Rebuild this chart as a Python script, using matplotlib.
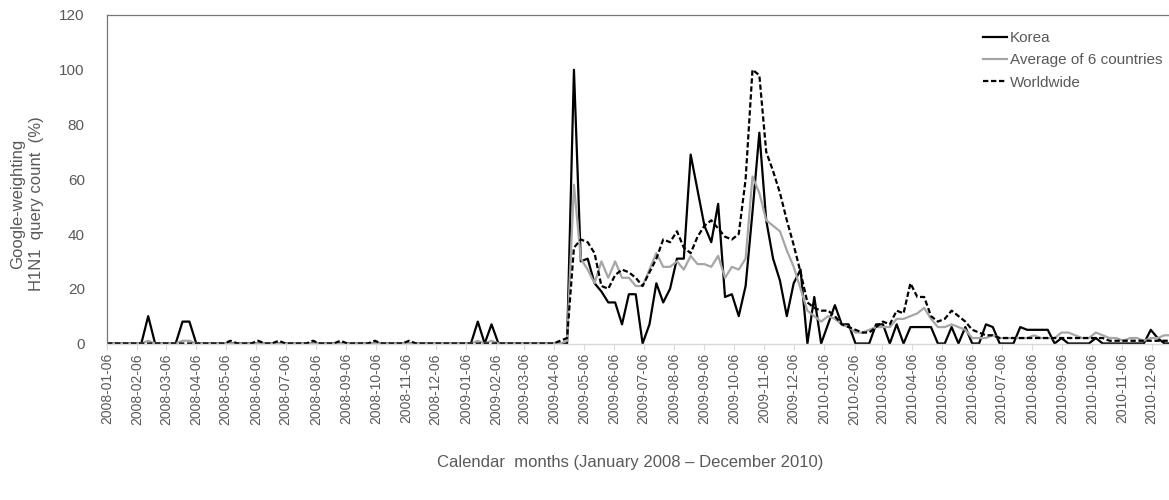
import matplotlib
matplotlib.use("Agg")
import matplotlib.pyplot as plt
import matplotlib.dates as mdates
import pandas as pd

plt.rcParams['font.family'] = ['Liberation Sans', 'DejaVu Sans']

# weekly H1N1 query counts (Google-weighted, %), first week 2008-01-06
start = '2008-01-06'

korea_2008 = [0, 0, 0, 0, 0, 0, 10, 0, 0, 0, 0, 8, 8, 0, 0, 0, 0, 0, 0, 0, 0, 0, 0, 0, 0, 0,
              0, 0, 0, 0, 0, 0, 0, 0, 0, 0, 0, 0, 0, 0, 0, 0, 0, 0, 0, 0, 0, 0, 0, 0, 0, 0]
korea_2009 = [0, 0, 8, 0, 7, 0, 0, 0, 0, 0, 0, 0, 0, 0, 0, 0, 100, 30, 31, 22, 19, 15, 15, 7, 18, 18,
              0, 7, 22, 15, 20, 31, 31, 69, 56, 43, 37, 51, 17, 18, 10, 21, 48, 77, 45, 31, 23, 10, 22, 27, 0, 17]
korea_2010 = [0, 7, 14, 7, 7, 0, 0, 0, 7, 7, 0, 7, 0, 6, 6, 6, 6, 0, 0, 6, 0, 6, 0, 0, 7, 6,
              0, 0, 0, 6, 5, 5, 5, 5, 0, 2, 0, 0, 0, 0, 2, 0, 0, 0, 0, 0, 0, 0, 5, 2, 0, 0]

avg6_2008 = [0, 0, 0, 0, 0, 0, 1, 0, 0, 0, 0, 1, 1, 0, 0, 0, 0, 0, 0, 0, 0, 0, 0, 0, 0, 0,
             0, 0, 0, 0, 0, 0, 0, 0, 0, 0, 0, 0, 0, 0, 0, 0, 0, 0, 0, 0, 0, 0, 0, 0, 0, 0]
avg6_2009 = [0, 0, 1, 0, 1, 0, 0, 0, 0, 0, 0, 0, 0, 0, 0, 1, 58, 31, 27, 22, 30, 24, 30, 24, 24, 21,
             21, 27, 33, 28, 28, 30, 27, 32, 29, 29, 28, 32, 24, 28, 27, 31, 61, 55, 45, 43, 41, 34, 28, 20, 12, 10]
avg6_2010 = [8, 10, 9, 7, 6, 4, 4, 5, 6, 6, 6, 9, 9, 10, 11, 13, 9, 6, 6, 7, 6, 5, 2, 2, 2, 3,
             2, 2, 2, 2, 2, 3, 2, 2, 2, 4, 4, 3, 2, 2, 4, 3, 2, 2, 1, 2, 2, 1, 2, 2, 3, 3]

world_2008 = [0, 0, 0, 0, 0, 0, 0, 0, 0, 0, 0, 0, 0, 0, 0, 0, 0, 0, 1, 0, 0, 0, 1, 0, 0, 1,
              0, 0, 0, 0, 1, 0, 0, 0, 1, 0, 0, 0, 0, 1, 0, 0, 0, 0, 1, 0, 0, 0, 0, 0, 0, 0]
world_2009 = [0, 0, 0, 0, 0, 0, 0, 0, 0, 0, 0, 0, 0, 0, 1, 2, 35, 38, 37, 33, 21, 20, 25, 27, 26, 24,
              21, 26, 31, 38, 37, 41, 35, 33, 39, 43, 45, 42, 39, 38, 40, 60, 100, 98, 70, 63, 55, 45, 36, 26, 15, 13]
world_2010 = [12, 12, 10, 7, 6, 5, 4, 4, 6, 8, 7, 12, 11, 22, 17, 17, 10, 8, 9, 12, 10, 8, 5, 4, 3, 3,
              2, 2, 2, 2, 2, 2, 2, 2, 2, 2, 2, 2, 2, 2, 2, 2, 1, 1, 1, 1, 1, 1, 1, 1, 1, 1]

korea = korea_2008 + korea_2009 + korea_2010
avg6 = avg6_2008 + avg6_2009 + avg6_2010
world = world_2008 + world_2009 + world_2010
weeks = pd.date_range(start, periods=len(korea), freq='7D')

txt = '#595959'

fig = plt.figure(figsize=(11.69, 5.0), dpi=100)
ax = fig.add_axes([107 / 1169, 156.5 / 500, 1062 / 1169, 328.5 / 500])

ax.plot(weeks, korea, color='black', lw=1.6, label='Korea')
ax.plot(weeks, avg6, color='#a6a6a6', lw=1.6, label='Average of 6 countries')
ax.plot(weeks, world, color='black', lw=1.6, dashes=(2.4, 1.2), label='Worldwide')

ax.set_ylim(0, 120)
ax.set_yticks(range(0, 121, 20))
ax.set_xlim(pd.Timestamp(start), pd.Timestamp(start) + pd.Timedelta(days=1082.6))

ax.xaxis.set_major_locator(mdates.MonthLocator(bymonthday=6))
ax.xaxis.set_major_formatter(mdates.DateFormatter('%Y-%m-%d'))
ax.tick_params(axis='x', rotation=90, labelsize=10, labelcolor=txt,
               color='#d9d9d9', length=4, pad=3)
ax.tick_params(axis='y', labelsize=11, labelcolor=txt, length=0, pad=16)

for side in ['left', 'top']:
    ax.spines[side].set_color('#767676')
    ax.spines[side].set_linewidth(0.9)
ax.spines['bottom'].set_color('#d9d9d9')
ax.spines['bottom'].set_linewidth(1.0)
ax.spines['right'].set_visible(False)

fig.text(27 / 1169, 1 - 204 / 500, 'Google-weighting\nH1N1  query count  (%)',
         rotation=90, ha='center', va='center', fontsize=12, color=txt,
         multialignment='center', linespacing=1.3)
fig.text(630 / 1169, 1 - 463 / 500, 'Calendar  months (January 2008 \u2013 December 2010)',
         ha='center', va='center', fontsize=12, color=txt)

ax.legend(loc='upper left', bbox_to_anchor=(983 / 1169, 1 - 31 / 500),
          bbox_transform=fig.transFigure, frameon=False, fontsize=11,
          handlelength=1.6, handletextpad=0.15, labelspacing=0.55,
          borderpad=0, borderaxespad=0, labelcolor=txt)

fig.savefig('out.png', dpi=100)
